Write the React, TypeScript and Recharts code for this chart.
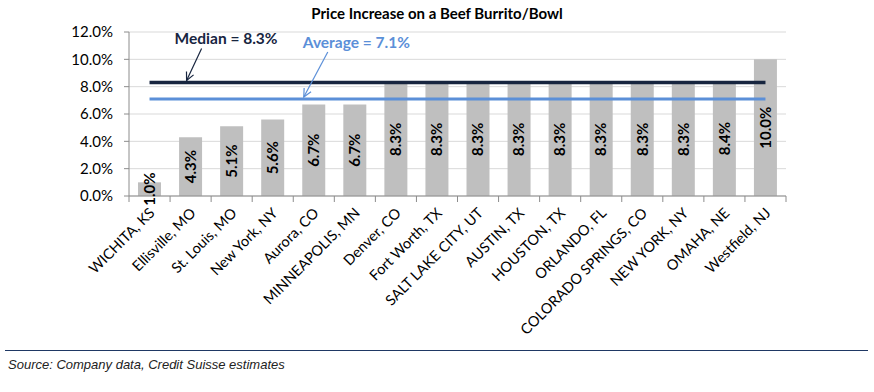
import {
  ComposedChart,
  Bar,
  Line,
  XAxis,
  YAxis,
  CartesianGrid,
  LabelList,
  ReferenceDot,
} from "recharts";

const cities = [
  "WICHITA, KS",
  "Ellisville, MO",
  "St. Louis, MO",
  "New York, NY",
  "Aurora, CO",
  "MINNEAPOLIS, MN",
  "Denver, CO",
  "Fort Worth, TX",
  "SALT LAKE CITY, UT",
  "AUSTIN, TX",
  "HOUSTON, TX",
  "ORLANDO, FL",
  "COLORADO SPRINGS, CO",
  "NEW YORK, NY",
  "OMAHA, NE",
  "Westfield, NJ",
];
const increases = [1.0, 4.3, 5.1, 5.6, 6.7, 6.7, 8.3, 8.3, 8.3, 8.3, 8.3, 8.3, 8.3, 8.3, 8.4, 10.0];
const medianValue = 8.3;
const averageValue = 7.1;
const yTicks = [0, 2, 4, 6, 8, 10, 12];

const data = cities.map((city, i) => ({
  city,
  increase: increases[i],
  median: medianValue,
  average: averageValue,
}));

const CHART_W = 874;
const CHART_H = 345;
const LEFT = 129;
const RIGHT = 88;
const X_AXIS_H = 149;
const AXIS_Y = CHART_H - X_AXIS_H;
const BAND = (CHART_W - LEFT - RIGHT) / cities.length;

const NAVY = "#17253f";
const BLUE = "#5b8fd8";
const FONT = "Lato, sans-serif";

function CityTick({ x, payload, index }: any) {
  const last = index === cities.length - 1;
  const ax = x + 6;
  const ay = AXIS_Y + 18;
  return (
    <g>
      <line x1={x - BAND / 2} y1={AXIS_Y} x2={x - BAND / 2} y2={AXIS_Y + 6} stroke="#8c8c8c" />
      {last && (
        <line x1={x + BAND / 2} y1={AXIS_Y} x2={x + BAND / 2} y2={AXIS_Y + 6} stroke="#8c8c8c" />
      )}
      <text
        x={ax}
        y={ay}
        textAnchor="end"
        transform={`rotate(-45, ${ax}, ${ay})`}
        fontFamily={FONT}
        fontSize={14.5}
        fill="#000"
      >
        {payload.value}
      </text>
    </g>
  );
}

function Callout({ cx, cy, text, color, dx, dy, tipDx, tailDx, tailDy }: any) {
  const tx = cx + tipDx;
  const ty = cy - 2;
  const sx = cx + tailDx;
  const sy = cy + tailDy;
  const ang = Math.atan2(ty - sy, tx - sx);
  const h = 9;
  const a1 = ang + Math.PI - 0.45;
  const a2 = ang + Math.PI + 0.45;
  return (
    <g>
      <line x1={sx} y1={sy} x2={tx} y2={ty} stroke={color} strokeWidth={1.2} />
      <polyline
        points={`${tx + h * Math.cos(a1)},${ty + h * Math.sin(a1)} ${tx},${ty} ${tx + h * Math.cos(a2)},${ty + h * Math.sin(a2)}`}
        fill="none"
        stroke={color}
        strokeWidth={1.2}
      />
      <text x={cx + dx} y={cy + dy} fontFamily={FONT} fontWeight="bold" fontSize={15.5} fill={color}>
        {text}
      </text>
    </g>
  );
}

export default function App() {
  return (
    <div
      style={{
        position: "absolute",
        left: 0,
        top: 0,
        width: 874,
        height: 392,
        background: "#fff",
        overflow: "hidden",
      }}
    >
      <div
        style={{
          position: "absolute",
          top: 4,
          left: 0,
          width: 874,
          textAlign: "center",
          fontFamily: FONT,
          fontWeight: "bold",
          fontSize: 15,
          color: "#000",
        }}
      >
        Price Increase on a Beef Burrito/Bowl
      </div>
      <ComposedChart
        width={CHART_W}
        height={CHART_H}
        data={data}
        margin={{ top: 32, right: RIGHT, left: 0, bottom: 0 }}
      >
        <CartesianGrid vertical={false} stroke="#d9d9d9" />
        <XAxis
          dataKey="city"
          interval={0}
          height={X_AXIS_H}
          axisLine={{ stroke: "#8c8c8c" }}
          tickLine={false}
          tick={<CityTick />}
        />
        <YAxis
          domain={[0, 12]}
          ticks={yTicks}
          width={LEFT}
          axisLine={{ stroke: "#8c8c8c" }}
          tickLine={{ stroke: "#8c8c8c" }}
          tickSize={5}
          tickMargin={11}
          tickFormatter={(v: number) => `${v.toFixed(1)}%`}
          tick={{ fontFamily: FONT, fontSize: 15, fill: "#000" }}
        />
        <Bar dataKey="increase" fill="#bfbfbf" barSize={23} isAnimationActive={false}>
          <LabelList
            dataKey="increase"
            position="center"
            angle={-90}
            formatter={(v: number) => `${v.toFixed(1)}%`}
            style={{ fontFamily: FONT, fontWeight: "bold", fontSize: 15, fill: "#000" }}
          />
        </Bar>
        <Line dataKey="median" stroke={NAVY} strokeWidth={3.5} dot={false} isAnimationActive={false} />
        <Line dataKey="average" stroke={BLUE} strokeWidth={3} dot={false} isAnimationActive={false} />
        <ReferenceDot
          x="Ellisville, MO"
          y={medianValue}
          r={0}
          shape={(p: any) => (
            <Callout
              cx={p.cx}
              cy={p.cy}
              text={`Median = ${medianValue}%`}
              color={NAVY}
              dx={-16}
              dy={-39}
              tipDx={-4}
              tailDx={11}
              tailDy={-34}
            />
          )}
        />
        <ReferenceDot
          x="Aurora, CO"
          y={averageValue}
          r={0}
          shape={(p: any) => (
            <Callout
              cx={p.cx}
              cy={p.cy}
              text={`Average = ${averageValue}%`}
              color={BLUE}
              dx={-11}
              dy={-51}
              tipDx={-10}
              tailDx={14}
              tailDy={-47}
            />
          )}
        />
      </ComposedChart>
      <div
        style={{
          position: "absolute",
          left: 5,
          top: 350,
          width: 863,
          borderTop: "1px solid #1f3864",
        }}
      />
      <div
        style={{
          position: "absolute",
          left: 8,
          top: 357,
          fontFamily: "Liberation Sans, Arial, sans-serif",
          fontStyle: "italic",
          fontSize: 13,
          color: "#222",
        }}
      >
        Source: Company data, Credit Suisse estimates
      </div>
    </div>
  );
}
